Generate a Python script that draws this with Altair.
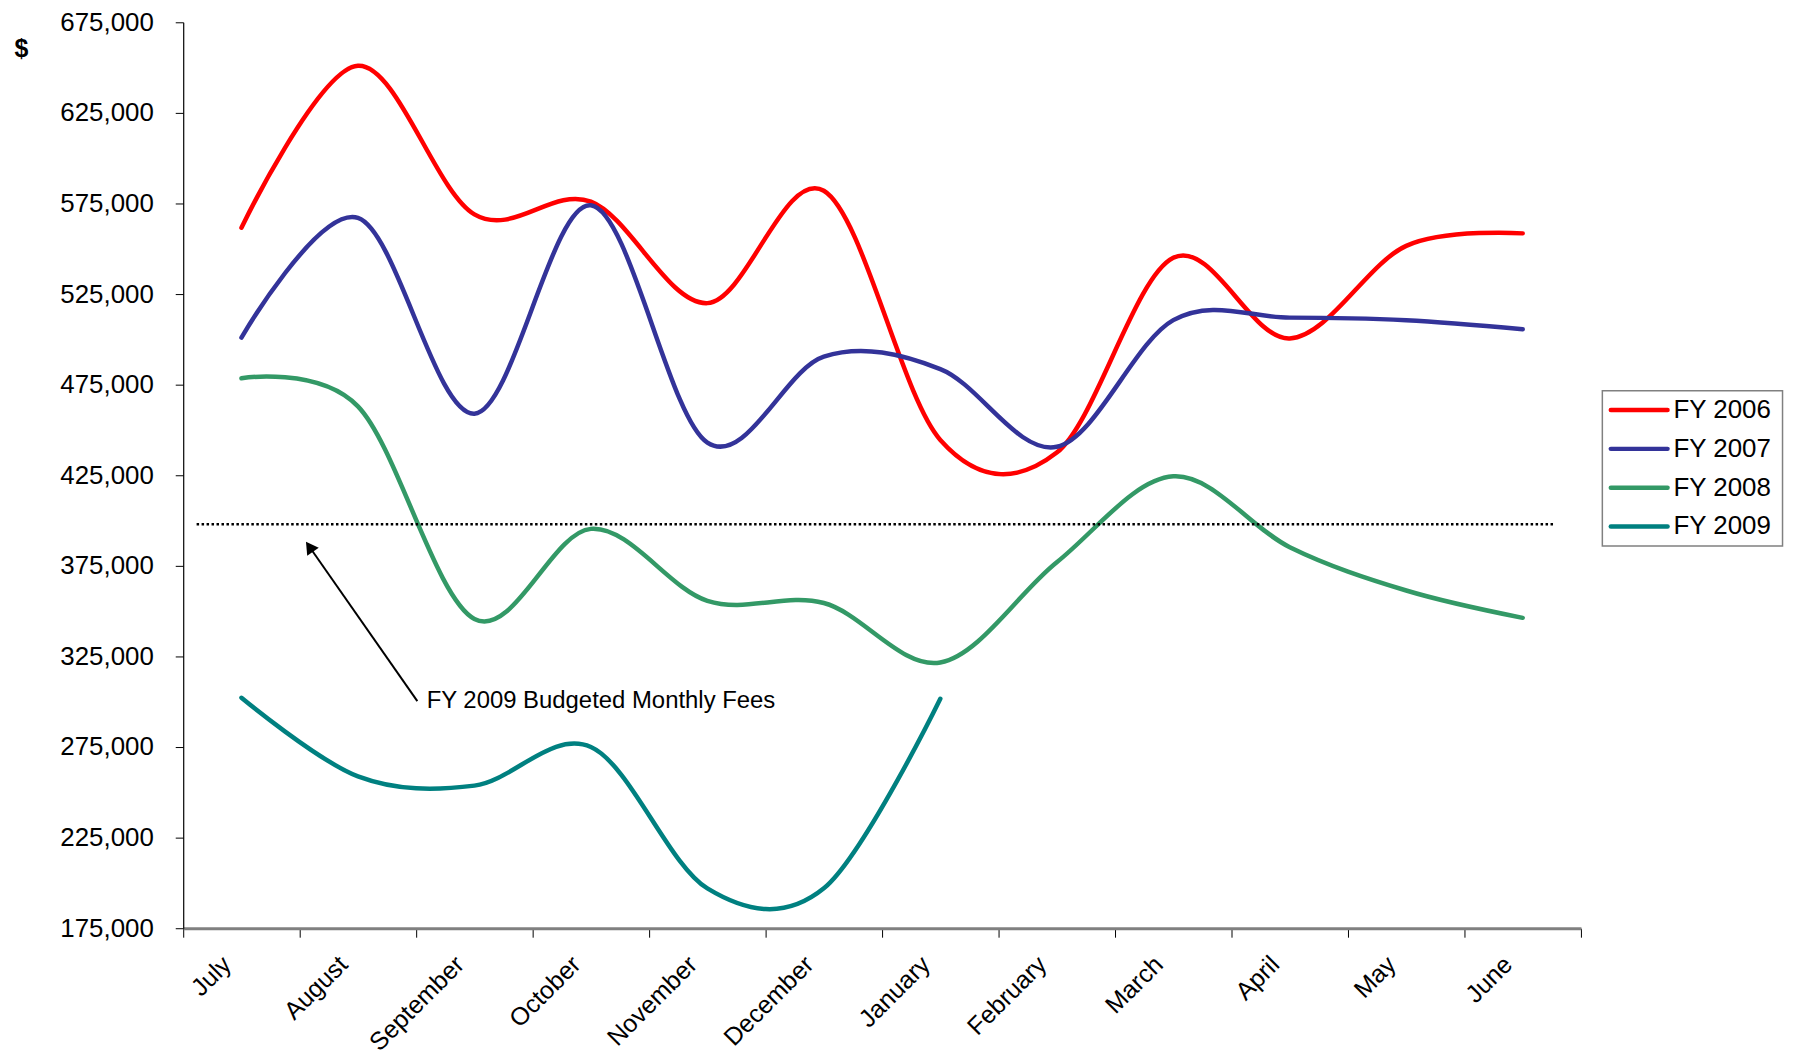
import altair as alt
import pandas as pd

months = ["July", "August", "September", "October", "November", "December",
          "January", "February", "March", "April", "May", "June"]
series = ["FY 2006", "FY 2007", "FY 2008", "FY 2009"]
colors = ["#FF0000", "#333399", "#339966", "#008080"]

fy2006 = [561600, 651000, 569000, 576000, 520000, 582000, 444500, 437500, 545000, 500500, 551600, 558500]
fy2007 = [501000, 567000, 459000, 574000, 443000, 490500, 483600, 440700, 510600, 512000, 510600, 505600]
fy2008 = [478500, 463000, 345700, 395400, 355700, 354500, 321700, 377000, 424400, 385300, 361400, 346300]
fy2009 = [302200, 258800, 253700, 275000, 197000, 197000, 301600]

budget_value = 398000
budget_label = "FY 2009 Budgeted Monthly Fees"

# annotation geometry in month-index units (0 = July) and dollar values
budget_span = [-0.385, 11.265]
arrow_start = [1.51, 300300]
arrow_end = [0.60, 384000]
head_pos = [0.584, 385500]
label_pos = [1.59, 300300]

rows = []
for s, vals in zip(series, [fy2006, fy2007, fy2008, fy2009]):
    for m, v in zip(months, vals):
        rows.append({"month": m, "series": s, "value": v})
df = pd.DataFrame(rows)

FONT = "Liberation Sans"
W, H = 1404, 910

yscale = alt.Scale(domain=[175000, 675000], nice=False, zero=False)
yaxis = alt.Axis(
    values=list(range(175000, 675001, 50000)), format=",d", formatType="number", title="$",
    titleAngle=0, titleFont=FONT, titleFontSize=25, titleFontWeight="bold",
    titleX=-163, titleY=26, titleAlign="center", titleBaseline="middle",
    labelFont=FONT, labelFontSize=26, labelColor="black", labelPadding=22,
    tickSize=8, tickColor="black", domainColor="black", domainWidth=1.2,
    grid=False,
)
color_scale = alt.Scale(domain=series, range=colors)

lines = alt.Chart(df).mark_line(interpolate="cardinal", strokeWidth=4.5, strokeCap="round").encode(
    x=alt.X("month:N", sort=months,
            scale=alt.Scale(paddingInner=0, paddingOuter=0),
            axis=alt.Axis(title=None, labelAngle=-45, labelAlign="right",
                          labelBaseline="middle", labelFont=FONT, labelFontSize=25,
                          labelColor="black", labelPadding=23, labelOffset=-15,
                          tickBand="extent", tickSize=9, tickColor="black",
                          domainColor="#808080", domainWidth=3, grid=False)),
    y=alt.Y("value:Q", scale=yscale, axis=yaxis),
    color=alt.Color("series:N", scale=color_scale, legend=None),
    order=alt.Order("idx:Q"),
).transform_calculate(idx="indexof(" + str(months) + ", datum.month)")

ax = alt.Scale(domain=[-0.5, 11.5], nice=False, zero=False)

budget_df = pd.DataFrame({"x1": [budget_span[0]], "x2": [budget_span[1]], "y": [budget_value]})
budget = alt.Chart(budget_df).mark_rule(color="black", strokeWidth=2.5, strokeDash=[2.5, 2.5]).encode(
    x=alt.X("x1:Q", scale=ax, axis=None),
    x2="x2:Q",
    y=alt.Y("y:Q", scale=yscale, axis=None),
)

arrow_df = pd.DataFrame({"x1": [arrow_start[0]], "y1": [arrow_start[1]],
                         "x2": [arrow_end[0]], "y2": [arrow_end[1]]})
arrow = alt.Chart(arrow_df).mark_rule(color="black", strokeWidth=2).encode(
    x=alt.X("x1:Q", scale=ax, axis=None), y=alt.Y("y1:Q", scale=yscale, axis=None),
    x2="x2:Q", y2="y2:Q",
)

head_df = pd.DataFrame({"x": [head_pos[0]], "y": [head_pos[1]]})
head = alt.Chart(head_df).mark_point(shape="triangle-up", filled=True, color="black",
                                     size=200, angle=325, opacity=1).encode(
    x=alt.X("x:Q", scale=ax, axis=None), y=alt.Y("y:Q", scale=yscale, axis=None),
)

text_df = pd.DataFrame({"x": [label_pos[0]], "y": [label_pos[1]], "t": [budget_label]})
text = alt.Chart(text_df).mark_text(align="left", baseline="middle", font=FONT,
                                    fontSize=24, color="black").encode(
    x=alt.X("x:Q", scale=ax, axis=None), y=alt.Y("y:Q", scale=yscale, axis=None), text="t:N",
)

# legend (drawn as marks, placed to the right of the plot area)
leg_df = pd.DataFrame({"series": series})
leg_y = alt.Y("series:N", scale=alt.Scale(type="point", domain=series, range=[389.5, 506.5], padding=0),
              axis=None)
leg_box = alt.Chart(pd.DataFrame({"k": [0]})).mark_rect(
    fill="white", stroke="#808080", strokeWidth=1.5).encode(
    x=alt.value(1425.5), x2=alt.value(1606.5), y=alt.value(370), y2=alt.value(526))
leg_lines = alt.Chart(leg_df).mark_rule(strokeWidth=4.5, strokeCap="round").encode(
    x=alt.value(1434), x2=alt.value(1491), y=leg_y,
    color=alt.Color("series:N", scale=color_scale, legend=None))
leg_text = alt.Chart(leg_df).mark_text(align="left", baseline="middle", font=FONT,
                                       fontSize=26, color="black").encode(
    x=alt.value(1497), y=leg_y, text="series:N")

chart = alt.layer(lines, budget, arrow, head, text, leg_box, leg_lines, leg_text).resolve_scale(
    x="independent", y="independent").properties(
    width=W, height=H,
    background="white",
    autosize=alt.AutoSizeParams(type="none"),
    padding={"left": 176, "top": 12, "right": 210, "bottom": 126},
).configure_view(strokeWidth=0, stroke="transparent")

chart.save("out.html", embed_options={"renderer": "svg", "actions": False})
